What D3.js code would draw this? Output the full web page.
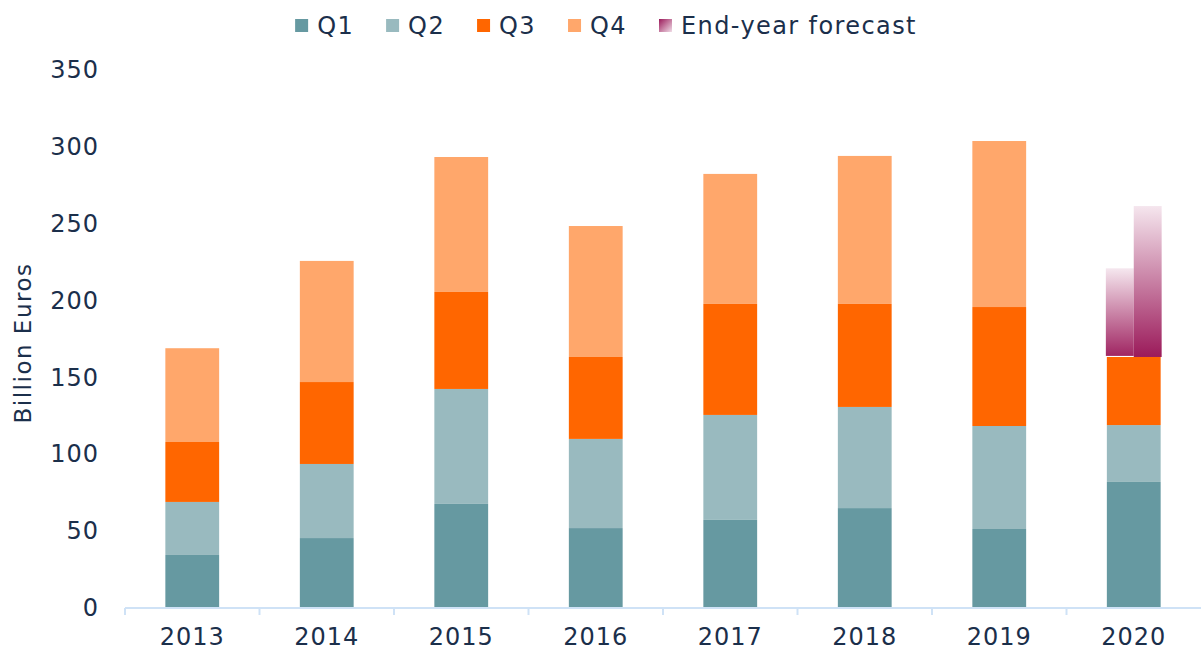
<!DOCTYPE html>
<html>
<head>
<meta charset="utf-8">
<script src="https://cdn.jsdelivr.net/npm/d3@7"></script>
<style>
  body { margin: 0; background: #fff; }
  svg text { font-family: "DejaVu Sans", sans-serif; fill: #1b2f4b; }
</style>
</head>
<body>
<div id="chart"></div>
<script>
// data (billion euros, per quarter)
const years = ["2013", "2014", "2015", "2016", "2017", "2018", "2019", "2020"];
const q1 = [34.5, 45.5, 67.7, 52, 57.3, 65, 51.4, 82];
const q2 = [34.5, 48.2, 74.8, 58, 68.3, 65.8, 67, 37];
const q3 = [39, 53.3, 63.1, 53.3, 72.2, 67, 77.4, 44.3];
const q4 = [61, 78.8, 87.8, 85.2, 84.6, 96.3, 108, 0];
const seriesNames = ["Q1", "Q2", "Q3", "Q4"];
const seriesColors = ["#6699a1", "#99babf", "#ff6600", "#ffa76b"];
// end-year forecast for 2020 (low / high scenario)
const forecastNames = ["low", "high"];
const forecastBase = [164, 163.3];
const forecastTop = [221, 261.5];
const yTicks = [0, 50, 100, 150, 200, 250, 300, 350];

const width = 1201, height = 652;
const margin = { top: 70, right: 0, bottom: 44, left: 125 };

const svg = d3.select("#chart")
  .append("svg")
  .attr("width", width)
  .attr("height", height);

const defs = svg.append("defs");
const grad = defs.append("linearGradient")
  .attr("id", "fcGrad")
  .attr("x1", 0).attr("y1", 1).attr("x2", 0).attr("y2", 0);
grad.append("stop").attr("offset", "0%").attr("stop-color", "#9b1a5a");
grad.append("stop").attr("offset", "100%").attr("stop-color", "#f5e6ee");
const gradL = defs.append("linearGradient")
  .attr("id", "fcGradLeg")
  .attr("x1", 0).attr("y1", 0).attr("x2", 1).attr("y2", 1);
gradL.append("stop").attr("offset", "0%").attr("stop-color", "#9b1a5a");
gradL.append("stop").attr("offset", "100%").attr("stop-color", "#f0dde7");

// scales
const x = d3.scaleBand()
  .domain(years)
  .range([margin.left, width - margin.right])
  .padding(0);
const y = d3.scaleLinear()
  .domain([0, 350])
  .range([height - margin.bottom, margin.top]);

const barW = x.bandwidth() * 0.4;
const barX = d => x(d) + (x.bandwidth() - barW) / 2;

// stacked bars
const table = years.map((yr, i) => ({ year: yr, Q1: q1[i], Q2: q2[i], Q3: q3[i], Q4: q4[i] }));
const stacked = d3.stack().keys(seriesNames)(table);

svg.append("g")
  .selectAll("g")
  .data(stacked)
  .join("g")
  .attr("fill", (d, i) => seriesColors[i])
  .selectAll("rect")
  .data(d => d.filter(s => s[1] - s[0] > 0))
  .join("rect")
  .attr("x", d => barX(d.data.year))
  .attr("y", d => y(d[1]))
  .attr("width", barW)
  .attr("height", d => y(d[0]) - y(d[1]));

// forecast bars on top of 2020
const lastYear = years[years.length - 1];
const fx = d3.scaleBand()
  .domain(forecastNames)
  .range([barX(lastYear) - 1, barX(lastYear) + barW + 1]);
svg.append("g")
  .selectAll("rect")
  .data(forecastNames)
  .join("rect")
  .attr("x", d => fx(d))
  .attr("y", (d, i) => y(forecastTop[i]))
  .attr("width", fx.bandwidth())
  .attr("height", (d, i) => y(forecastBase[i]) - y(forecastTop[i]))
  .attr("fill", "url(#fcGrad)")
  .attr("opacity", (d, i) => i === 0 ? 0.95 : 1);

// x axis
const xAxis = svg.append("g")
  .attr("transform", `translate(0,${y(0)})`)
  .call(d3.axisBottom(x).tickSize(0).tickPadding(20));
xAxis.select(".domain").remove();
xAxis.selectAll("text")
  .attr("font-size", 24)
  .attr("letter-spacing", 1)
  .attr("fill", "#1b2f4b");
xAxis.append("line")
  .attr("x1", margin.left).attr("x2", width)
  .attr("stroke", "#cfe2f6").attr("stroke-width", 2);
xAxis.selectAll(".bound")
  .data(years)
  .join("line")
  .attr("class", "bound")
  .attr("x1", d => x(d)).attr("x2", d => x(d))
  .attr("y1", 0).attr("y2", 7)
  .attr("stroke", "#cfe2f6").attr("stroke-width", 2);

// y axis
const yAxis = svg.append("g")
  .attr("transform", `translate(${margin.left},0)`)
  .call(d3.axisLeft(y).tickValues(yTicks).tickSize(0).tickPadding(26));
yAxis.select(".domain").remove();
yAxis.selectAll("text")
  .attr("font-size", 24)
  .attr("letter-spacing", 1)
  .attr("fill", "#1b2f4b");

svg.append("text")
  .attr("transform", `translate(31,${(y(0) + y(350)) / 2 + 4}) rotate(-90)`)
  .attr("text-anchor", "middle")
  .attr("font-size", 23)
  .attr("letter-spacing", 1.5)
  .text("Billion Euros");

// legend
const legendItems = seriesNames.map((n, i) => ({ name: n, fill: seriesColors[i] }))
  .concat([{ name: "End-year forecast", fill: "url(#fcGradLeg)" }]);
const legend = svg.append("g");
let cx = 0;
legendItems.forEach(item => {
  const g = legend.append("g").attr("transform", `translate(${cx},0)`);
  g.append("rect")
    .attr("x", 0).attr("y", 19)
    .attr("width", 13).attr("height", 13)
    .attr("fill", item.fill);
  const t = g.append("text")
    .attr("x", 22).attr("y", 34)
    .attr("font-size", 24)
    .attr("letter-spacing", 1.4)
    .text(item.name);
  cx += 22 + t.node().getComputedTextLength() + 32;
});
const legW = cx - 32;
legend.attr("transform", `translate(${606 - legW / 2},0)`);
</script>
</body>
</html>
